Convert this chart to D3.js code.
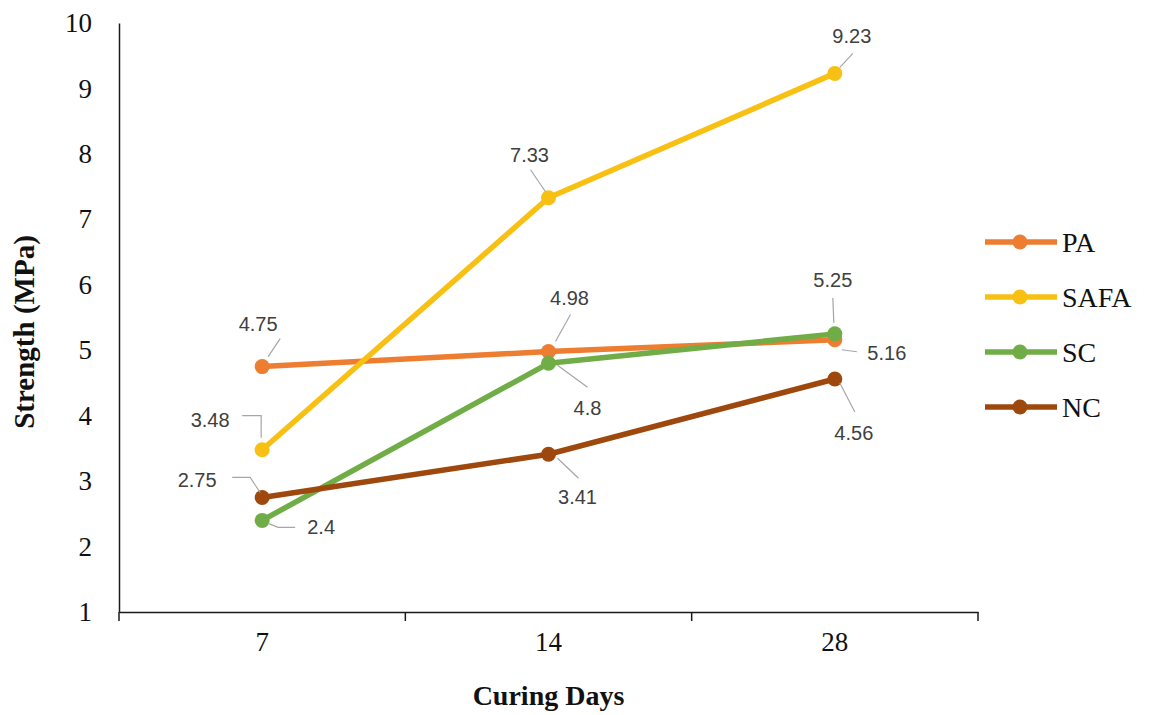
<!DOCTYPE html>
<html>
<head>
<meta charset="utf-8">
<script src="https://cdn.jsdelivr.net/npm/d3@7"></script>
<style>
  html, body { margin: 0; padding: 0; background: #fff; }
  svg { display: block; }
</style>
</head>
<body>
<svg id="chart" width="1149" height="715"></svg>
<script>
// Curing age categories (days)
const curingDays = ["7", "14", "28"];

// Strength values (MPa) per mix
const seriesNames = ["PA", "SAFA", "SC", "NC"];
const paValues   = [4.75, 4.98, 5.16];
const safaValues = [3.48, 7.33, 9.23];
const scValues   = [2.4, 4.8, 5.25];
const ncValues   = [2.75, 3.41, 4.56];

// Y axis tick labels
const yTicks = [1, 2, 3, 4, 5, 6, 7, 8, 9, 10];

const seriesColors = ["#ED7D31", "#F8C012", "#70AD47", "#9E480E"];
const seriesValues = [paValues, safaValues, scValues, ncValues];

// Data-label placement: text centre offset and leader polyline offsets, relative to each marker
const labelLayout = [
  [ {t: [-4, -43], l: [[6, -10], [18, -28]]},
    {t: [21, -54], l: [[7, -10], [22, -37]]},
    {t: [52, 13],  l: [[7, 10], [22, 12]]} ],
  [ {t: [-52, -30], l: [[-1, -12], [-1, -34], [-20, -34]]},
    {t: [-19, -43], l: [[-3, -6], [-18, -28]]},
    {t: [17, -37],  l: [[5, -6], [18, -20]]} ],
  [ {t: [59, 7],  l: [[6, 3], [16, 7], [33, 7]]},
    {t: [39, 45], l: [[9, 2], [39, 24]]},
    {t: [-2, -54], l: [[-1, -11], [-2, -36]]} ],
  [ {t: [-65, -17], l: [[-2, -5], [-12, -20], [-30, -20]]},
    {t: [29, 43], l: [[9, 4], [30, 24]]},
    {t: [19, 54], l: [[5, 4], [20, 33]]} ]
];

const svg = d3.select("#chart");

const x = d3.scaleBand().domain(curingDays).range([119, 978]).padding(0);
const y = d3.scaleLinear().domain([1, 10]).range([612, 23]);

const serif = "'Liberation Serif', 'Times New Roman', serif";
const sans = "'Liberation Sans', Arial, sans-serif";

// Y axis
const yAxis = svg.append("g")
  .attr("transform", `translate(${x.range()[0]},0)`)
  .call(d3.axisLeft(y).tickValues(yTicks).tickSize(0).tickPadding(27).tickSizeOuter(0));
yAxis.select(".domain").attr("stroke", "#1a1a1a").attr("stroke-width", 1.5);
yAxis.selectAll("text").attr("font-family", serif).attr("font-size", 27).attr("fill", "#111");

// X axis with tick marks on category boundaries
const xAxis = svg.append("g")
  .attr("transform", `translate(0,${y(1)})`)
  .call(d3.axisBottom(x).tickSize(0).tickPadding(20).tickSizeOuter(0));
xAxis.select(".domain").attr("stroke", "#1a1a1a").attr("stroke-width", 1.5);
xAxis.selectAll("text").attr("font-family", serif).attr("font-size", 27).attr("fill", "#111");
const bounds = curingDays.map(d => x(d)).concat([x(curingDays[curingDays.length - 1]) + x.bandwidth()]);
xAxis.selectAll("line.bound").data(bounds).join("line")
  .attr("class", "bound")
  .attr("x1", d => d).attr("x2", d => d)
  .attr("y1", 0).attr("y2", 9)
  .attr("stroke", "#1a1a1a").attr("stroke-width", 1.5);

// Axis titles
svg.append("text")
  .attr("x", x.range()[0] + (x.range()[1] - x.range()[0]) / 2)
  .attr("y", 705)
  .attr("text-anchor", "middle")
  .attr("font-family", serif).attr("font-weight", "bold").attr("font-size", 28)
  .attr("fill", "#111")
  .text("Curing Days");

svg.append("text")
  .attr("transform", "translate(34,332) rotate(-90)")
  .attr("text-anchor", "middle")
  .attr("font-family", serif).attr("font-weight", "bold").attr("font-size", 29)
  .attr("fill", "#111")
  .text("Strength (MPa)");

const cx = d => x(d) + x.bandwidth() / 2;
const line = d3.line().x(d => cx(d.day)).y(d => y(d.v));

// Series lines and markers
seriesNames.forEach((name, si) => {
  const pts = curingDays.map((day, i) => ({day, v: seriesValues[si][i]}));
  const g = svg.append("g");
  g.append("path")
    .datum(pts)
    .attr("d", line)
    .attr("fill", "none")
    .attr("stroke", seriesColors[si])
    .attr("stroke-width", 5.5)
    .attr("stroke-linejoin", "round")
    .attr("stroke-linecap", "round");
  g.selectAll("circle").data(pts).join("circle")
    .attr("cx", d => cx(d.day))
    .attr("cy", d => y(d.v))
    .attr("r", 7.5)
    .attr("fill", seriesColors[si]);
});

// Data labels with leader lines
seriesNames.forEach((name, si) => {
  curingDays.forEach((day, i) => {
    const v = seriesValues[si][i];
    const px = cx(day), py = y(v);
    const lay = labelLayout[si][i];
    svg.append("path")
      .attr("d", d3.line()(lay.l.map(o => [px + o[0], py + o[1]])))
      .attr("fill", "none")
      .attr("stroke", "#A6A6A6")
      .attr("stroke-width", 1.2);
    svg.append("text")
      .attr("x", px + lay.t[0])
      .attr("y", py + lay.t[1])
      .attr("text-anchor", "middle")
      .attr("dominant-baseline", "central")
      .attr("font-family", sans).attr("font-size", 20)
      .attr("fill", "#404040")
      .text(String(v));
  });
});

// Legend
const legend = svg.append("g");
seriesNames.forEach((name, si) => {
  const ly = 242 + si * 55;
  legend.append("line")
    .attr("x1", 985).attr("x2", 1057).attr("y1", ly).attr("y2", ly)
    .attr("stroke", seriesColors[si]).attr("stroke-width", 5.5);
  legend.append("circle")
    .attr("cx", 1020).attr("cy", ly).attr("r", 7.5)
    .attr("fill", seriesColors[si]);
  legend.append("text")
    .attr("x", 1062).attr("y", ly)
    .attr("dominant-baseline", "central")
    .attr("font-family", serif).attr("font-size", 28)
    .attr("fill", "#111")
    .text(name);
});
</script>
</body>
</html>
